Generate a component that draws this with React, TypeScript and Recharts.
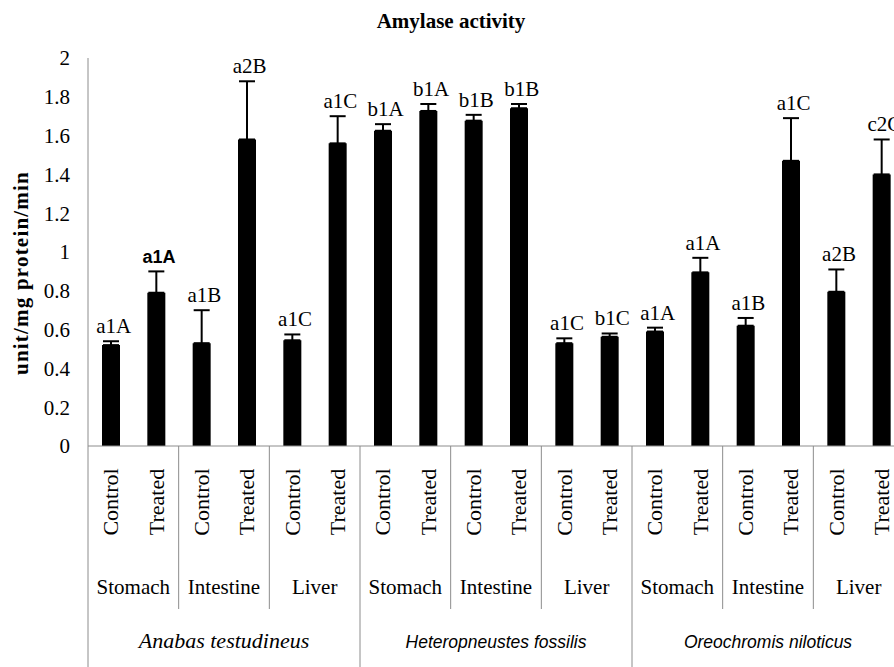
import React from 'react';
import { ComposedChart, Bar, Line, XAxis, YAxis, ErrorBar } from 'recharts';

const species = ['Anabas testudineus', 'Heteropneustes fossilis', 'Oreochromis niloticus'];
const organs = ['Stomach', 'Intestine', 'Liver'];
const treatments = ['Control', 'Treated'];

// activity (unit/mg protein/min), in order species > organ > treatment
const activity = [0.52, 0.79, 0.53, 1.58, 0.545, 1.56, 1.625, 1.727, 1.677, 1.741, 0.53, 0.563, 0.59, 0.895, 0.62, 1.47, 0.795, 1.40];
const errUp = [0.02, 0.11, 0.17, 0.30, 0.03, 0.14, 0.034, 0.036, 0.03, 0.022, 0.025, 0.017, 0.02, 0.075, 0.04, 0.22, 0.115, 0.18];
const letters = ['a1A', 'a1A', 'a1B', 'a2B', 'a1C', 'a1C', 'b1A', 'b1A', 'b1B', 'b1B', 'a1C', 'b1C', 'a1A', 'a1A', 'a1B', 'a1C', 'a2B', 'c2C'];
const yTicks = [0, 0.2, 0.4, 0.6, 0.8, 1, 1.2, 1.4, 1.6, 1.8, 2];

const rows = species.flatMap((sp) =>
  organs.flatMap((org) => treatments.map((tr) => ({ species: sp, organ: org, treatment: tr })))
).map((r, i) => ({
  ...r,
  key: `${r.species}-${r.organ}-${r.treatment}`,
  value: activity[i],
  err: [0, errUp[i]],
  top: activity[i] + errUp[i],
  sig: letters[i],
}));

const SERIF = "'Liberation Serif', 'Times New Roman', serif";
const SANS = "'Liberation Sans', Arial, sans-serif";
const W = 914;
const H = 667;
const MARGIN = { top: 58, right: 10, left: 0, bottom: 11 };
const Y_W = 88;
const BAND = (W - MARGIN.left - MARGIN.right - Y_W) / rows.length;

const CategoryTick = (props: any) => {
  const { x, y, payload } = props;
  const i = payload.index;
  const r = rows[i];
  const half = payload.offset || BAND / 2;
  const ty = y + 56;
  return (
    <g>
      <text x={x} y={ty} transform={`rotate(-90, ${x}, ${ty})`} textAnchor="middle" dominantBaseline="central"
        fontFamily={SERIF} fontSize={22} fill="#000">{r.treatment}</text>
      {i % 2 === 0 && (
        <>
          <line x1={x - half} x2={x - half} y1={y} y2={y + (i % 6 === 0 ? 240 : 163)} stroke="#8c8c8c" />
          <text x={x + half} y={y + 148} textAnchor="middle" fontFamily={SERIF} fontSize={21} fill="#000">{r.organ}</text>
        </>
      )}
      {i % 6 === 0 && (
        <text x={x + half * 5} y={y + 202} textAnchor="middle" fontStyle="italic"
          fontFamily={i === 0 ? SERIF : SANS} fontSize={i === 0 ? 22 : 17.5} fill="#000">{r.species}</text>
      )}
      {i === rows.length - 1 && (
        <line x1={x + half} x2={x + half} y1={y} y2={y + 240} stroke="#8c8c8c" />
      )}
    </g>
  );
};

const SigLabel = (props: any) => {
  const { cx, cy, payload, index } = props;
  // the second label is set in a sans face in the original figure
  const sans = index === 1;
  return (
    <text key={`sig-${index}`} x={cx + 3} y={cy - 8} textAnchor="middle" fontFamily={sans ? SANS : SERIF}
      fontSize={sans ? 18 : 21} fontWeight={sans ? 600 : 400} fill="#000">
      {payload.sig}
    </text>
  );
};

export default function App() {
  return (
    <div style={{ position: 'absolute', left: 0, top: 0, width: 894, height: 667, overflow: 'hidden', background: '#fff' }}>
      <ComposedChart width={W} height={H} data={rows} margin={MARGIN}>
        <XAxis dataKey="key" height={210} interval={0} stroke="#8c8c8c" tickLine={false} tickSize={0} tickMargin={0}
          tick={<CategoryTick />} />
        <YAxis type="number" domain={[0, 2]} ticks={yTicks} width={Y_W} stroke="#8c8c8c" tickLine={false} tickSize={0}
          tickMargin={18} tick={{ fill: '#000', fontSize: 21, fontFamily: SERIF }} />
        <Bar dataKey="value" fill="#000" barSize={18} isAnimationActive={false}>
          <ErrorBar dataKey="err" direction="y" width={8} stroke="#000" strokeWidth={2} />
        </Bar>
        <Line dataKey="top" stroke="none" dot={SigLabel} activeDot={false} isAnimationActive={false} />
      </ComposedChart>
      <svg width={894} height={667} style={{ position: 'absolute', left: 0, top: 0, pointerEvents: 'none' }}>
        <text x={451} y={28} textAnchor="middle" fontFamily={SERIF} fontWeight="bold" fontSize={21} fill="#000">
          Amylase activity
        </text>
        <text x={28} y={273} transform="rotate(-90, 28, 273)" textAnchor="middle" fontFamily={SERIF} fontWeight="bold"
          fontSize={21} letterSpacing={1.2} fill="#000">
          unit/mg protein/min
        </text>
      </svg>
    </div>
  );
}
